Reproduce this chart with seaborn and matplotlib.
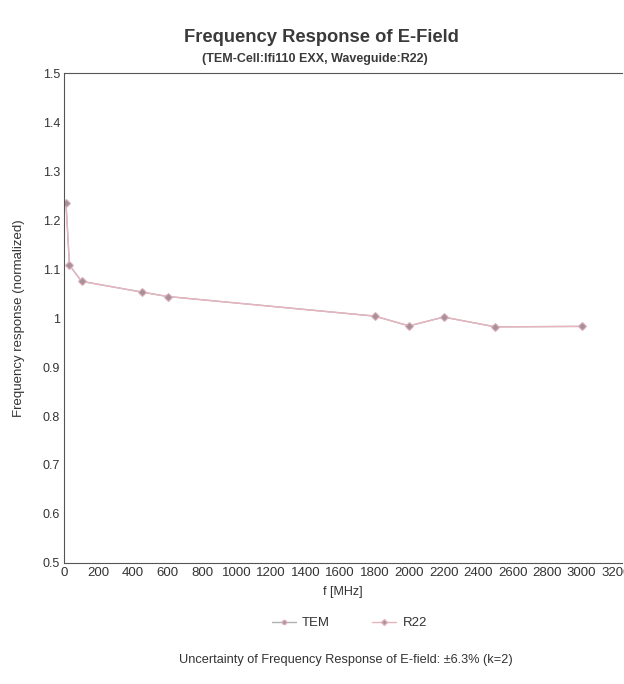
import pandas as pd
import seaborn as sns
import matplotlib.pyplot as plt
from matplotlib.ticker import FuncFormatter
from matplotlib.lines import Line2D

freq_mhz = [10, 30, 100, 450, 600, 1800, 2000, 2200, 2500, 3000]
tem_resp = [1.235, 1.108, 1.075, 1.053, 1.044, 1.004, 0.984, 1.002, 0.982, 0.983]
r22_resp = [1.235, 1.108, 1.075, 1.053, 1.044, 1.004, 0.984, 1.002, 0.982, 0.983]

x_ticks = list(range(0, 3201, 200))
y_ticks = [0.5, 0.6, 0.7, 0.8, 0.9, 1.0, 1.1, 1.2, 1.3, 1.4, 1.5]

sns.set_theme(style="white")
plt.rcParams['font.family'] = ['Liberation Sans', 'DejaVu Sans']

df = pd.concat([
    pd.DataFrame({'f': freq_mhz, 'resp': tem_resp, 'series': 'TEM'}),
    pd.DataFrame({'f': freq_mhz, 'resp': r22_resp, 'series': 'R22'}),
])

fig = plt.figure(figsize=(6.24, 6.84), dpi=100)
ax = fig.add_axes([0.103, 0.177, 0.894, 0.716])

sns.lineplot(data=df, x='f', y='resp', hue='series', style='series',
             palette={'TEM': '#b0b0b0', 'R22': '#e8b4c0'},
             markers={'TEM': 'o', 'R22': 'D'}, dashes=False,
             markersize=4, linewidth=1.0, ax=ax, legend=False)
for ln in ax.lines:
    ln.set_markerfacecolor('#a8909a')
    ln.set_markeredgecolor('#dcb0bb')

ax.set_xlim(0, 3235)
ax.set_ylim(0.5, 1.5)
ax.set_xticks(x_ticks)
ax.set_yticks(y_ticks)
ax.yaxis.set_major_formatter(FuncFormatter(lambda v, p: f"{v:g}"))
ax.tick_params(axis='x', labelsize=9.5, colors='#333333', length=0, pad=3)
ax.tick_params(axis='y', labelsize=9, colors='#333333', length=0, pad=3)

for side in ['left', 'bottom', 'top']:
    ax.spines[side].set_color('#555555')
    ax.spines[side].set_linewidth(0.8)
ax.spines['right'].set_visible(False)

ax.set_xlabel('f [MHz]', fontsize=9, color='#333333', labelpad=5)
ax.set_ylabel('Frequency response (normalized)', fontsize=9.5, color='#333333')
ax.yaxis.set_label_coords(-0.07, 0.5)

fig.text(0.515, 0.945, 'Frequency Response of E-Field', ha='center', va='center',
         fontsize=13.2, fontweight='bold', color='#3a3a3a')
fig.text(0.505, 0.914, '(TEM-Cell:Ifi110 EXX, Waveguide:R22)', ha='center', va='center',
         fontsize=9, fontweight='bold', color='#3a3a3a')

# legend below axis
handles = [Line2D([0], [0], color='#b0b0b0', marker='o', markersize=3,
                  markerfacecolor='#a8909a', markeredgecolor='#dcb0bb', lw=1),
           Line2D([0], [0], color='#e8b4c0', marker='D', markersize=3,
                  markerfacecolor='#a8909a', markeredgecolor='#dcb0bb', lw=1)]
fig.legend(handles, ['TEM', 'R22'], loc='center', bbox_to_anchor=(0.56, 0.089),
           ncol=2, frameon=False, fontsize=9.5, handlelength=1.8, handletextpad=0.5,
           columnspacing=3.2, labelcolor='#333333')

fig.text(0.555, 0.035, 'Uncertainty of Frequency Response of E-field: \u00b16.3% (k=2)',
         ha='center', va='center', fontsize=9.2, color='#333333')

fig.savefig('out.png', dpi=100)
